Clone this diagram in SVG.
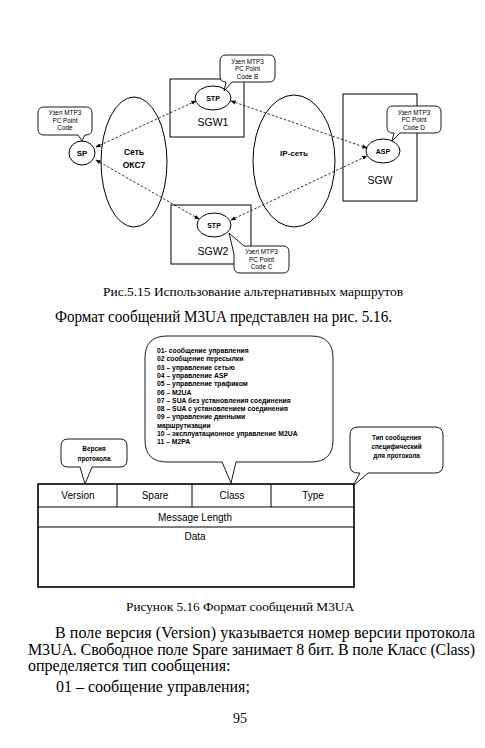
<svg xmlns="http://www.w3.org/2000/svg" width="485" height="748" viewBox="0 0 485 748">
<defs>
<style>
.ln{fill:none;stroke:#000;stroke-width:1}
.co{fill:#fff;stroke:#000;stroke-width:0.9}
.dash{fill:none;stroke:#000;stroke-width:0.8;stroke-dasharray:2.5,1.8;marker-start:url(#ah);marker-end:url(#ah)}
.s{font-family:"Liberation Sans",Arial,sans-serif;text-anchor:middle}
.cs{font-size:6.4px}
.b{font-weight:bold}
.t{font-family:"Liberation Serif","Times New Roman",serif}
.lst{font-family:"Liberation Sans",Arial,sans-serif;font-size:6.8px;font-weight:bold}
</style>
<marker id="ah" viewBox="0 0 6 6" refX="5.5" refY="3" markerWidth="5" markerHeight="5" orient="auto-start-reverse" markerUnits="userSpaceOnUse">
<path d="M0,0.5 L6,3 L0,5.5 Z" fill="#000"/>
</marker>
</defs>
<rect width="485" height="748" fill="#fff"/>

<g id="net-oks7">
<ellipse class="ln" cx="134" cy="162" rx="33" ry="65"/>
<text class="s b" x="134" y="155" font-size="8.5">Сеть</text>
<text class="s b" x="134" y="168" font-size="8.5">ОКС7</text>
</g>
<g id="net-ip">
<ellipse class="ln" cx="294" cy="161" rx="41" ry="66"/>
<text class="s b" x="294" y="156" font-size="8">IP-сеть</text>
</g>

<g id="sp">
<ellipse class="ln" cx="82" cy="153" rx="13" ry="12"/>
<text class="s b" x="82" y="156" font-size="8">SP</text>
<path class="co" d="M44,107 H86 Q92,107 92,113 V129 Q92,135 86,135 H85 L82,141 L78,135 H44 Q38,135 38,129 V113 Q38,107 44,107 Z"/>
<text class="s cs" x="65" y="115">Узел MTP3</text>
<text class="s cs" x="65" y="122.5">PC Point</text>
<text class="s cs" x="65" y="130">Code</text>
</g>

<g id="sgw1">
<rect class="ln" x="170" y="79" width="74" height="58"/>
<ellipse class="ln" cx="213" cy="98" rx="18" ry="12"/>
<text class="s b" x="213" y="100.5" font-size="7">STP</text>
<text class="s" x="213" y="126" font-size="10.5">SGW1</text>
<path class="co" d="M226,55 H269 Q275,55 275,61 V76 Q275,82 269,82 H232 L224,91 L226,82 Q220,82 220,76 V61 Q220,55 226,55 Z"/>
<text class="s cs" x="247.5" y="63.5">Узел MTP3</text>
<text class="s cs" x="247.5" y="71">PC Point</text>
<text class="s cs" x="247.5" y="78.5">Code B</text>
</g>

<g id="sgw">
<rect class="ln" x="343" y="94" width="74" height="107"/>
<ellipse class="ln" cx="383" cy="151" rx="17" ry="12"/>
<text class="s b" x="383" y="153.5" font-size="7">ASP</text>
<text class="s" x="380" y="184" font-size="10.5">SGW</text>
<path class="co" d="M393,106 H435 Q441,106 441,112 V127 Q441,133 435,133 H400 L392,141 L394,133 H393 Q387,133 387,127 V112 Q387,106 393,106 Z"/>
<text class="s cs" x="414" y="114.5">Узел MTP3</text>
<text class="s cs" x="414" y="122">PC Point</text>
<text class="s cs" x="414" y="129.5">Code D</text>
</g>

<g id="sgw2">
<rect class="ln" x="171" y="205" width="80" height="59"/>
<ellipse class="ln" cx="214" cy="225" rx="17" ry="12"/>
<text class="s b" x="214" y="227.5" font-size="7">STP</text>
<text class="s" x="213" y="255" font-size="10.5">SGW2</text>
<path class="co" d="M244,246 H283 Q289,246 289,252 V267 Q289,273 283,273 H240 Q234,273 234,267 V254 L229,233 Z"/>
<text class="s cs" x="261.5" y="254">Узел MTP3</text>
<text class="s cs" x="261.5" y="261.5">PC Point</text>
<text class="s cs" x="261.5" y="269">Code C</text>
</g>

<g id="connectors">
<line class="dash" x1="96" y1="147" x2="196" y2="101"/>
<line class="dash" x1="96" y1="160" x2="199" y2="219"/>
<line class="dash" x1="231" y1="101" x2="367" y2="148"/>
<line class="dash" x1="231" y1="220" x2="367" y2="156"/>
</g>

<text class="t" x="253" y="296" font-size="13.5" text-anchor="middle" textLength="300" lengthAdjust="spacingAndGlyphs">Рис.5.15 Использование альтернативных маршрутов</text>
<text class="t" x="55" y="322" font-size="16" textLength="337" lengthAdjust="spacingAndGlyphs">Формат сообщений M3UA представлен на рис. 5.16.</text>

<g id="class-bubble">
<path class="co" d="M167,336 H311 Q333,336 333,358 V440 Q333,462 311,462 H236 L231,483 L222,462 H167 Q145,462 145,440 V358 Q145,336 167,336 Z"/>
<text class="lst" x="157" y="353">01- сообщение управления</text>
<text class="lst" x="157" y="361.3">02 сообщение пересылки</text>
<text class="lst" x="157" y="369.6">03 – управление сетью</text>
<text class="lst" x="157" y="377.9">04 – управление ASP</text>
<text class="lst" x="157" y="386.2">05 – управление трафиком</text>
<text class="lst" x="157" y="394.5">06 – M2UA</text>
<text class="lst" x="157" y="402.8">07 – SUA без установления соединения</text>
<text class="lst" x="157" y="411.1">08 – SUA с установлением соединения</text>
<text class="lst" x="157" y="419.4">09 – управление данными</text>
<text class="lst" x="157" y="427.7">маршрутизации</text>
<text class="lst" x="157" y="436">10 – эксплуатационное управление M2UA</text>
<text class="lst" x="157" y="444.3">11 – M2PA</text>
</g>

<g id="version-callout">
<path class="co" d="M68,439 H120 Q127,439 127,446 V460 Q127,467 120,467 H92 L85,484 L80,467 H68 Q61,467 61,460 V446 Q61,439 68,439 Z"/>
<text class="s cs b" x="94" y="450.5">Версия</text>
<text class="s cs b" x="94" y="460.5">протокола</text>
</g>

<g id="type-callout">
<path class="co" d="M358,427 H435 Q443,427 443,435 V465 Q443,473 435,473 H368 L353,486 L360,473 H358 Q350,473 350,465 V435 Q350,427 358,427 Z"/>
<text class="s cs b" x="396.5" y="439.5">Тип сообщения</text>
<text class="s cs b" x="396.5" y="448.5">специфический</text>
<text class="s cs b" x="396.5" y="457.5">для протокола</text>
</g>

<g id="m3ua-header">
<rect x="38" y="484" width="316" height="103" fill="none" stroke="#000" stroke-width="1.6"/>
<line class="ln" x1="38" y1="507" x2="354" y2="507" stroke-width="1.4"/>
<line class="ln" x1="38" y1="527" x2="354" y2="527" stroke-width="1.4"/>
<line class="ln" x1="117" y1="484" x2="117" y2="507" stroke-width="1.4"/>
<line class="ln" x1="192" y1="484" x2="192" y2="507" stroke-width="1.4"/>
<line class="ln" x1="271" y1="484" x2="271" y2="507" stroke-width="1.4"/>
<text class="s" x="78" y="499" font-size="10">Version</text>
<text class="s" x="155" y="499" font-size="10">Spare</text>
<text class="s" x="232" y="499" font-size="10">Class</text>
<text class="s" x="313" y="499" font-size="10">Type</text>
<text class="s" x="195" y="521" font-size="10">Message Length</text>
<text class="s" x="195" y="540" font-size="10">Data</text>
</g>

<text class="t" x="240" y="611" font-size="13" text-anchor="middle" textLength="228" lengthAdjust="spacingAndGlyphs">Рисунок 5.16 Формат сообщений M3UA</text>

<text class="t" x="55" y="638" font-size="16" textLength="420" lengthAdjust="spacing">В поле версия (Version) указывается номер версии протокола</text>
<text class="t" x="28" y="655" font-size="16" textLength="447" lengthAdjust="spacing">M3UA. Свободное поле Spare занимает 8 бит. В поле Класс (Class)</text>
<text class="t" x="28" y="671" font-size="16">определяется тип сообщения:</text>
<text class="t" x="56" y="692" font-size="16">01 – сообщение управления;</text>
<text class="t" x="240" y="723" font-size="14" text-anchor="middle">95</text>
</svg>
